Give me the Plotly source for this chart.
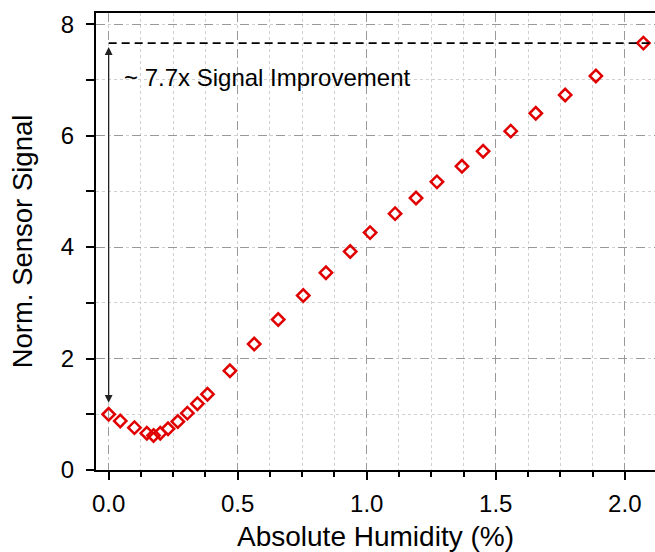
import plotly.graph_objects as go

# Data
humidity = [0.000, 0.045, 0.100, 0.148, 0.174, 0.200, 0.230, 0.268, 0.305, 0.344,
            0.383, 0.470, 0.564, 0.657, 0.754, 0.842, 0.936, 1.013, 1.110, 1.191,
            1.272, 1.369, 1.451, 1.558, 1.655, 1.769, 1.888, 2.072]
signal = [1.00, 0.88, 0.76, 0.66, 0.62, 0.66, 0.74, 0.87, 1.02, 1.19,
          1.36, 1.78, 2.26, 2.70, 3.13, 3.54, 3.92, 4.26, 4.60, 4.88,
          5.17, 5.45, 5.72, 6.08, 6.40, 6.73, 7.07, 7.66]
x_ticks = [0.0, 0.5, 1.0, 1.5, 2.0]
x_tick_labels = ["0.0", "0.5", "1.0", "1.5", "2.0"]
y_ticks = [0, 2, 4, 6, 8]
y_tick_labels = ["0", "2", "4", "6", "8"]
annotation_text = "~ 7.7x Signal Improvement"

X_RANGE = [-0.049, 2.117]
Y_RANGE = [0, 8.2]
FONT = "Liberation Sans, Arial, sans-serif"
RED = "#e00000"

fig = go.Figure()
fig.add_trace(go.Scatter(
    x=humidity, y=signal, mode="markers",
    marker=dict(symbol="diamond-open", size=9.5, color=RED,
                line=dict(width=2.5, color=RED)),
    showlegend=False, hoverinfo="skip",
))

# dashed reference line at final signal level
fig.add_shape(type="line", xref="x", yref="y",
              x0=humidity[0], x1=X_RANGE[1], y0=signal[-1], y1=signal[-1],
              line=dict(color="black", width=1.6, dash="8px,5px"))

# double-headed arrow from initial to final signal
fig.add_annotation(x=humidity[0], y=signal[-1], ax=humidity[0], ay=signal[0],
                   xref="x", yref="y", axref="x", ayref="y",
                   text="", showarrow=True, arrowside="end+start",
                   arrowhead=2, startarrowhead=2, arrowsize=1.2, startarrowsize=1.2,
                   arrowwidth=1.3, arrowcolor="#222222",
                   standoff=4, startstandoff=10)

fig.add_annotation(x=0.052, y=7.05, xref="x", yref="y", text=annotation_text,
                   showarrow=False, xanchor="left", yanchor="middle",
                   font=dict(family=FONT, size=24, color="black"))

axis_common = dict(
    showline=True, linecolor="black", linewidth=2,
    ticks="outside", ticklen=8, tickwidth=1.5, tickcolor="black",
    tickfont=dict(family=FONT, size=24, color="black"),
    showgrid=True, gridcolor="#999999", griddash="dash", gridwidth=1,
    zeroline=False,
)

fig.update_xaxes(
    **axis_common,
    range=X_RANGE, tickmode="array", tickvals=x_ticks, ticktext=x_tick_labels,
    mirror=True,
    minor=dict(dtick=0.125, tick0=0, ticks="outside", ticklen=5, tickwidth=1.5,
               tickcolor="black", showgrid=True, gridcolor="#d0d0d0",
               griddash="dot", gridwidth=1),
    title=dict(text="Absolute Humidity (%)", font=dict(family=FONT, size=28, color="black"),
               standoff=14),
    ticklabelstandoff=3,
)
fig.update_yaxes(
    **axis_common,
    range=Y_RANGE, tickmode="array", tickvals=y_ticks, ticktext=y_tick_labels,
    minor=dict(dtick=1, tick0=0, ticks="outside", ticklen=8, tickwidth=1.5,
               tickcolor="black", showgrid=True, gridcolor="#d0d0d0",
               griddash="dot", gridwidth=1),
    title=dict(text="Norm. Sensor Signal", font=dict(family=FONT, size=27.5, color="black"),
               standoff=20),
    ticklabelstandoff=7,
)

fig.update_layout(
    width=655, height=552, autosize=False,
    margin=dict(l=96, r=0, t=13, b=82, pad=0),
    plot_bgcolor="white", paper_bgcolor="white",
    showlegend=False,
)

fig.write_html("out.html")
